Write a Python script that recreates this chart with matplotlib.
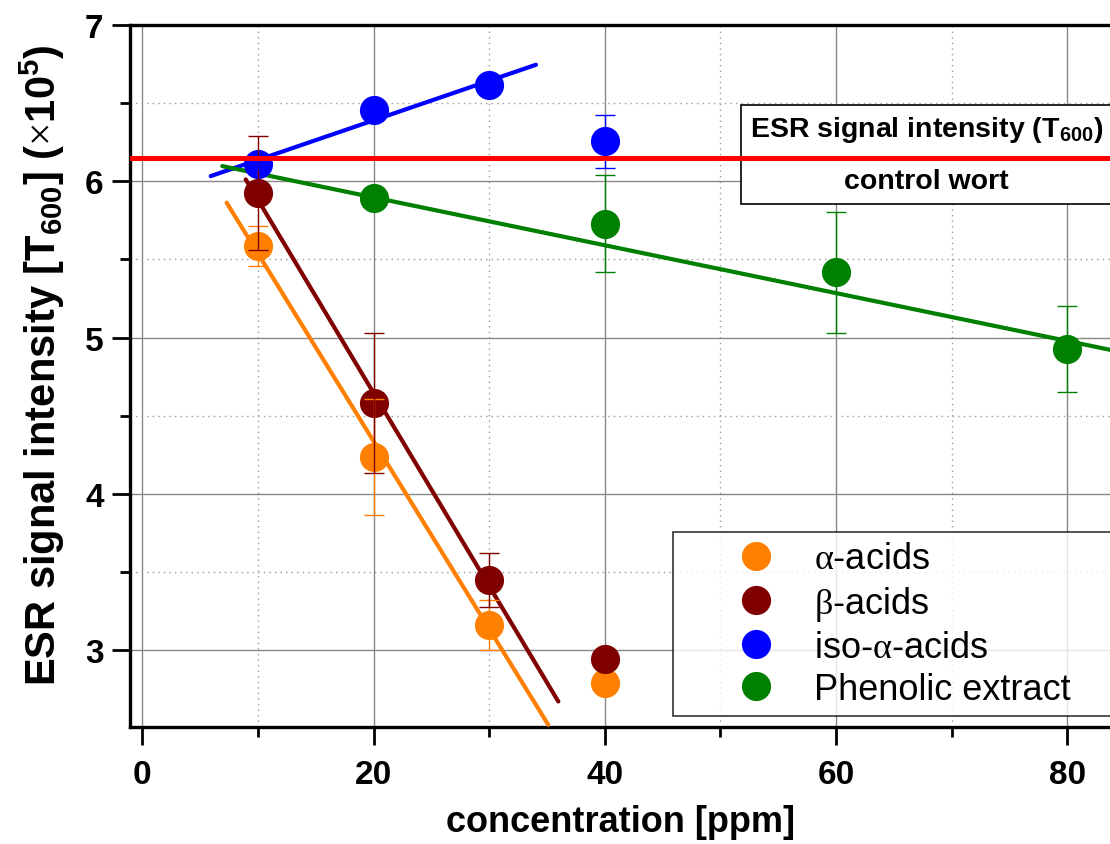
#!/usr/bin/env python3
"""ESR signal intensity vs hop compound concentration (recreated chart)."""
import matplotlib
matplotlib.use("Agg")
import matplotlib.pyplot as plt
from matplotlib.patches import Rectangle
from matplotlib.ticker import MultipleLocator

plt.rcParams.update({
    "font.family": "Liberation Sans",
    "mathtext.fontset": "custom",
    "mathtext.rm": "Liberation Serif",
    "mathtext.bf": "Liberation Sans:bold",
    "mathtext.it": "Liberation Sans:italic",
})

# --- data ---
alpha_x = [10, 20, 30, 40]
alpha_y = [5.585, 4.238, 3.162, 2.79]
alpha_err = [0.13, 0.37, 0.157, 0.0]

beta_x = [10, 20, 30, 40]
beta_y = [5.926, 4.582, 3.449, 2.943]
beta_err = [0.365, 0.45, 0.175, 0.0]

iso_x = [10, 20, 30, 40]
iso_y = [6.107, 6.457, 6.612, 6.255]
iso_err = [0.03, 0.03, 0.03, 0.17]

phen_x = [20, 40, 60, 80]
phen_y = [5.894, 5.728, 5.416, 4.927]
phen_err = [0.06, 0.31, 0.386, 0.273]

# fitted lines, endpoints as drawn
alpha_fit_x, alpha_fit_y = [7.29, 35.11], [5.862, 2.524]
beta_fit_x, beta_fit_y = [8.94, 35.98], [6.011, 2.673]
iso_fit_x, iso_fit_y = [5.91, 34.05], [6.032, 6.744]
phen_fit_x, phen_fit_y = [6.91, 84.0], [6.096, 4.917]

control_level = 6.15

labels = [r"$\mathrm{\alpha}$-acids", r"$\mathrm{\beta}$-acids",
          r"iso-$\mathrm{\alpha}$-acids", "Phenolic extract"]
colors = ["#FF8000", "#800000", "#0000FF", "#008000"]


def main():
    fig = plt.figure(figsize=(11.1, 8.45), dpi=100)
    ax = fig.add_axes([130 / 1110, 1 - 728 / 845, 980 / 1110, (728 - 25.7) / 845])

    series = [
        (alpha_x, alpha_y, alpha_err, alpha_fit_x, alpha_fit_y),
        (beta_x, beta_y, beta_err, beta_fit_x, beta_fit_y),
        (iso_x, iso_y, iso_err, iso_fit_x, iso_fit_y),
        (phen_x, phen_y, phen_err, phen_fit_x, phen_fit_y),
    ]
    for (x, y, e, fx, fy), c, lab in zip(series, colors, labels):
        ax.plot(fx, fy, color=c, lw=3.0, solid_capstyle="round", zorder=3)
        ax.plot(x, y, "o", color=c, ms=21, mec="none", label=lab, zorder=4)
        ax.errorbar(x, y, yerr=e, fmt="none", ecolor=c, elinewidth=1.0,
                    capsize=7, capthick=1.0, zorder=5)

    ax.axhline(control_level, color="#FF0000", lw=3.6, zorder=6)

    # control-wort box
    ax.add_patch(Rectangle((51.8, 5.851), 40, 0.638, fill=True, fc="white",
                           ec="black", lw=1.2, zorder=2.5))
    ax.text(67.8, 6.33, r"ESR signal intensity (T$_{\mathbf{600}}$)",
            ha="center", va="center", fontsize=20.5, fontweight="bold", zorder=7)
    ax.text(67.8, 6.0, "control wort", ha="center", va="center",
            fontsize=20.5, fontweight="bold", zorder=7)

    ax.set_xlim(-1.07, 83.7)
    ax.set_ylim(2.51, 7.0)
    ax.xaxis.set_major_locator(MultipleLocator(20))
    ax.xaxis.set_minor_locator(MultipleLocator(10))
    ax.yaxis.set_major_locator(MultipleLocator(1))
    ax.yaxis.set_minor_locator(MultipleLocator(0.5))
    ax.grid(which="major", color="#888888", lw=1.0, ls="-", zorder=0)
    ax.grid(which="minor", color="#999999", lw=1.0, ls=(0, (1, 3)), zorder=0)
    ax.set_axisbelow(True)

    ax.tick_params(which="major", direction="out", length=13, width=2,
                   labelsize=24, pad=6)
    ax.tick_params(axis="x", which="major", pad=10)
    ax.tick_params(which="minor", direction="out", length=7, width=2)
    for lab in ax.get_xticklabels() + ax.get_yticklabels():
        lab.set_fontweight("bold")
    for s in ["left", "bottom", "top"]:
        ax.spines[s].set_linewidth(2.4)
    ax.spines["right"].set_visible(False)

    ax.set_xlabel("concentration [ppm]", fontsize=26, fontweight="bold", labelpad=10)
    ax.set_ylabel(r"ESR signal intensity [T$_{\mathbf{600}}$] ($\times$10$^{\mathbf{5}}$)",
                  fontsize=30, fontweight="bold")
    ax.yaxis.set_label_coords(-0.064, 0.517)

    leg = ax.legend(loc="lower left", bbox_to_anchor=(0.554, 0.0157, 0.5, 0.27),
                    mode="expand", fontsize=26, frameon=True, fancybox=False,
                    edgecolor="black", handletextpad=-0.45, labelspacing=0.2,
                    borderpad=0.25, handlelength=4.1, borderaxespad=0)
    leg.get_frame().set_linewidth(1.2)
    leg.set_zorder(8)

    fig.savefig("out.png", dpi=100)
    plt.close(fig)


if __name__ == "__main__":
    main()
